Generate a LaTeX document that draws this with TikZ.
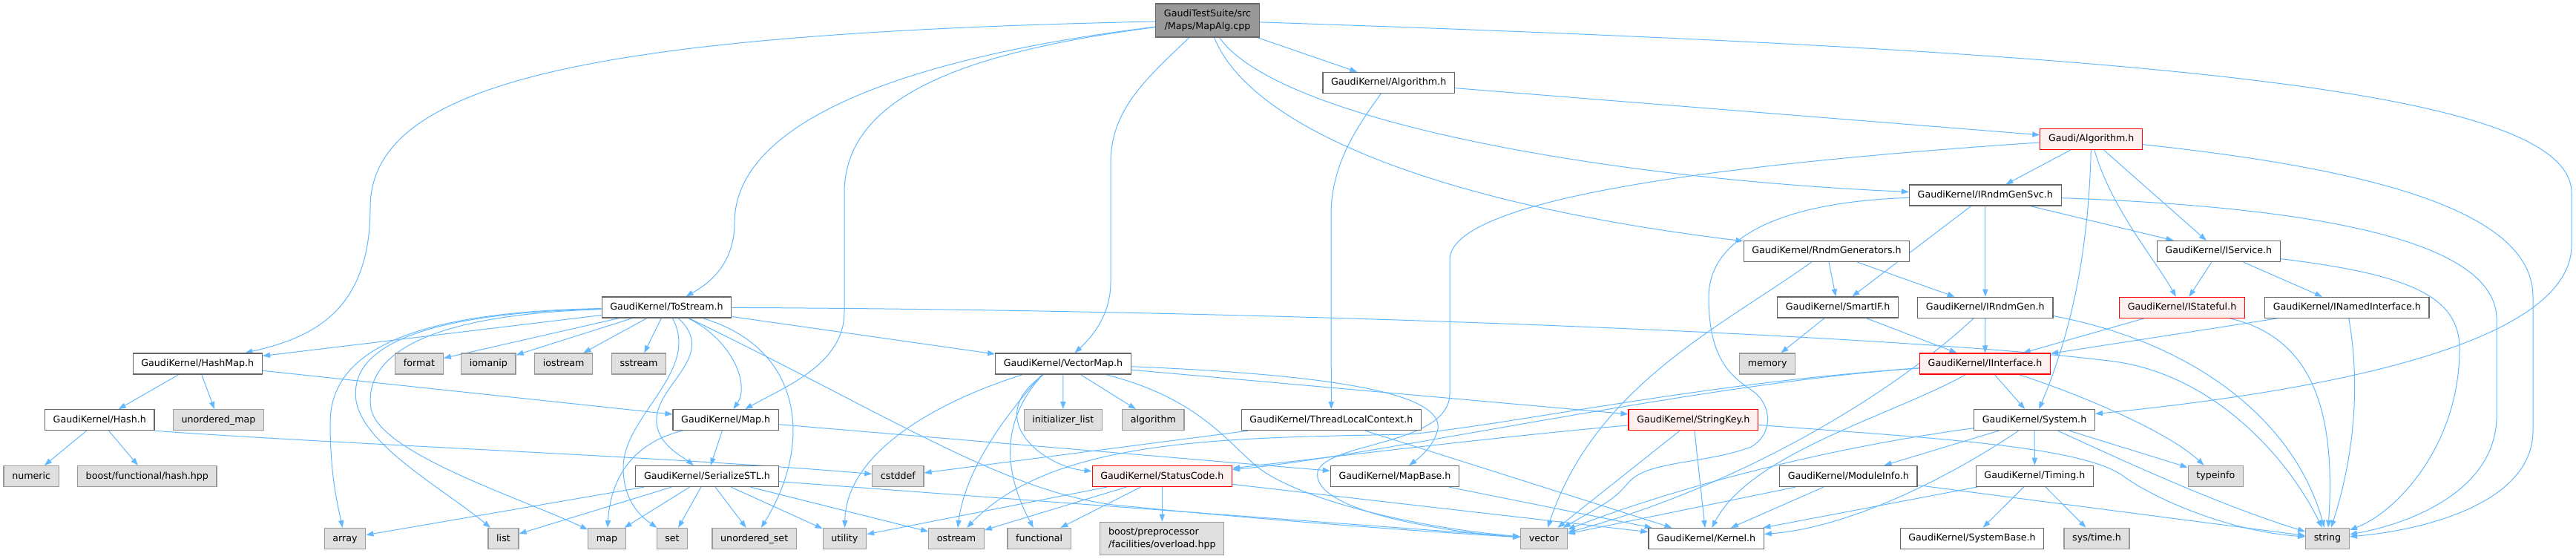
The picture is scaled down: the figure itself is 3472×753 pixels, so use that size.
\documentclass[tikz,border=0pt]{standalone}
\usepackage{fontspec}
\setmainfont{DejaVu Sans}
\usetikzlibrary{arrows.meta}
\definecolor{EdgeBlue}{HTML}{63B8FF}
\definecolor{NodeLine}{HTML}{666666}
\definecolor{SysLine}{HTML}{999999}
\definecolor{SysFill}{HTML}{E0E0E0}
\definecolor{MainFill}{HTML}{999999}
\definecolor{RedLine}{HTML}{FF0000}
\definecolor{RedFill}{HTML}{FFF0F0}
\newcommand{\dotfont}{\fontsize{6.33pt}{8.7pt}\selectfont}
\pgfdeclarelayer{back}
\pgfsetlayers{back,main}

\begin{document}
\begin{tikzpicture}[x=0.5pt, y=-0.5pt, every node/.style={font=\dotfont}]
        \tikzstyle{filebox}=[draw=NodeLine, fill=white, line width=0.6pt, inner xsep=5.6pt, inner ysep=0pt, minimum height=14pt]
        \tikzstyle{file}=[filebox, text height=4.8pt, text depth=1.3pt]
        \tikzstyle{sysfile}=[file, draw=SysLine, fill=SysFill]
        \tikzstyle{redfile}=[file, draw=RedLine, fill=RedFill]
        \tikzstyle{mainfile}=[filebox, fill=MainFill, minimum height=22.5pt, align=center]
        \tikzstyle{syspair}=[filebox, draw=SysLine, fill=SysFill, minimum height=22.2pt, align=left]
        \tikzstyle{incl}=[draw=EdgeBlue, line width=0.5pt, -{Triangle[length=5pt,width=3.6pt]}]
        \useasboundingbox (0,0) rectangle (3472,753);

        \node[mainfile] (main) at (1627.5,27.5) {GaudiTestSuite/src\\/Maps/MapAlg.cpp};
        \node[file] (algk) at (1871.7,111.5) {GaudiKernel/Algorithm.h};
        \node[redfile] (galg) at (2818.7,187.3) {Gaudi/Algorithm.h};
        \node[file] (rndmsvc) at (2675.8,263) {GaudiKernel/IRndmGenSvc.h};
        \node[file] (rndmgens) at (2462,338.5) {GaudiKernel/RndmGenerators.h};
        \node[file] (isvc) at (2990.3,338.5) {GaudiKernel/IService.h};
        \node[file] (tostream) at (898.5,414) {GaudiKernel/ToStream.h};
        \node[file] (smartif) at (2477.2,414) {GaudiKernel/SmartIF.h};
        \node[file] (irndmgen) at (2675.8,414.3) {GaudiKernel/IRndmGen.h};
        \node[redfile] (istateful) at (2941,414.3) {GaudiKernel/IStateful.h};
        \node[file] (inamed) at (3163.3,414.3) {GaudiKernel/INamedInterface.h};
        \node[file] (hashmap) at (266.3,490) {GaudiKernel/HashMap.h};
        \node[sysfile] (fmt) at (565,490) {format};
        \node[sysfile] (iomanip) at (658.4,490) {iomanip};
        \node[sysfile] (iostream) at (759.7,490) {iostream};
        \node[sysfile] (sstream) at (861,490) {sstream};
        \node[file] (vectormap) at (1433,490) {GaudiKernel/VectorMap.h};
        \node[sysfile] (memory) at (2382.2,490) {memory};
        \node[redfile] (iiface) at (2675.5,490) {GaudiKernel/IInterface.h};
        \node[file] (hash) at (134.3,565.7) {GaudiKernel/Hash.h};
        \node[sysfile] (umap) at (294.5,565.7) {unordered\_map};
        \node[file] (gkmap) at (978.2,565.7) {GaudiKernel/Map.h};
        \node[sysfile] (initlist) at (1432.8,565.7) {initializer\_list};
        \node[sysfile] (algorithm) at (1554.3,565.7) {algorithm};
        \node[file] (tlctx) at (1794.3,565.7) {GaudiKernel/ThreadLocalContext.h};
        \node[redfile] (stringkey) at (2282.3,565.7) {GaudiKernel/StringKey.h};
        \node[file] (system) at (2742,565.7) {GaudiKernel/System.h};
        \node[sysfile] (numeric) at (42.2,641.5) {numeric};
        \node[sysfile] (boosthash) at (198.3,641.5) {boost/functional/hash.hpp};
        \node[file] (serial) at (953,641.5) {GaudiKernel/SerializeSTL.h};
        \node[sysfile] (cstddef) at (1210.4,641.5) {cstddef};
        \node[redfile] (statuscode) at (1566.3,641.5) {GaudiKernel/StatusCode.h};
        \node[file] (mapbase) at (1880,641.5) {GaudiKernel/MapBase.h};
        \node[file] (modinfo) at (2491.3,641.5) {GaudiKernel/ModuleInfo.h};
        \node[file] (timing) at (2742.4,641.3) {GaudiKernel/Timing.h};
        \node[sysfile] (typeinfo) at (2986.3,641.3) {typeinfo};
        \node[sysfile] (array) at (465,725.5) {array};
        \node[sysfile] (list) at (678.5,725.5) {list};
        \node[sysfile] (stdmap) at (818,725.5) {map};
        \node[sysfile] (set) at (906,725.5) {set};
        \node[sysfile] (uset) at (1016.7,725.5) {unordered\_set};
        \node[sysfile] (utility) at (1138.4,725.5) {utility};
        \node[sysfile] (ostream) at (1289,725.5) {ostream};
        \node[sysfile] (functional) at (1400.6,725.5) {functional};
        \node[syspair] (boostpp) at (1566.3,725.5) {boost/preprocessor\\/facilities/overload.hpp};
        \node[sysfile] (vector) at (2081,725.5) {vector};
        \node[file] (kernel) at (2299.6,725.5) {GaudiKernel/Kernel.h};
        \node[file] (sysbase) at (2658,725.3) {GaudiKernel/SystemBase.h};
        \node[sysfile] (systime) at (2826,725.3) {sys/time.h};
        \node[sysfile] (string) at (3137,725.3) {string};

        \begin{pgfonlayer}{back}
        % MapAlg.cpp
        \draw[incl] (main) .. controls (800,45) and (499,110) .. (499,280) .. controls (499,420) and (420,455) .. (hashmap);
        \draw[incl] (main) .. controls (1200,80) and (990,170) .. (990,300) .. controls (990,360) and (950,385) .. (tostream);
        \draw[incl] (main) .. controls (1300,70) and (1138,130) .. (1138,260) -- (1138,420) .. controls (1138,490) and (1060,520) .. (gkmap);
        \draw[incl] (main) .. controls (1540,110) and (1497,150) .. (1497,220) -- (1497,380) .. controls (1497,430) and (1465,460) .. (vectormap);
        \draw[incl] (main) -- (algk);
        \draw[incl] (main) .. controls (1680,160) and (1900,270) .. (rndmgens);
        \draw[incl] (main) .. controls (1720,160) and (2150,240) .. (rndmsvc);
        \draw[incl] (main) .. controls (2900,70) and (3466,120) .. (3466,260) -- (3466,330) .. controls (3466,470) and (3100,530) .. (system);
        % Algorithm headers
        \draw[incl] (algk) -- (galg);
        \draw[incl] (algk) .. controls (1830,170) and (1794,220) .. (1794,290) -- (tlctx);
        \draw[incl] (galg) -- (rndmsvc);
        \draw[incl] (galg) .. controls (2815,330) and (2795,440) .. (system);
        \draw[incl] (galg) .. controls (2845,280) and (2905,350) .. (istateful);
        \draw[incl] (galg) -- (isvc);
        \draw[incl] (galg) .. controls (3220,230) and (3414,290) .. (3414,400) -- (3414,580) .. controls (3414,680) and (3260,715) .. (string);
        \draw[incl] (galg) .. controls (2300,222) and (1954,270) .. (1954,350) -- (1954,530) .. controls (1954,600) and (1790,595) .. (1776,635) .. controls (1765,690) and (1960,718) .. (vector);
        % random numbers
        \draw[incl] (rndmsvc) -- (smartif);
        \draw[incl] (rndmsvc) -- (irndmgen);
        \draw[incl] (rndmsvc) -- (isvc);
        \draw[incl] (rndmsvc) .. controls (3150,280) and (3365,330) .. (3365,430) -- (3365,560) .. controls (3365,660) and (3250,705) .. (string);
        \draw[incl] (rndmsvc) .. controls (2400,272) and (2303,320) .. (2303,400) .. controls (2303,480) and (2330,505) .. (2360,525) .. controls (2390,545) and (2390,585) .. (2360,602) .. controls (2300,625) and (2220,620) .. (2195,650) .. controls (2175,672) .. (vector);
        \draw[incl] (rndmgens) -- (smartif);
        \draw[incl] (rndmgens) -- (irndmgen);
        \draw[incl] (rndmgens) .. controls (2320,440) and (2150,520) .. (vector);
        \draw[incl] (smartif) -- (memory);
        \draw[incl] (smartif) -- (iiface);
        \draw[incl] (irndmgen) -- (iiface);
        \draw[incl] (irndmgen.-7) .. controls (2950,460) and (3090,560) .. (string);
        \draw[incl] (irndmgen) .. controls (2540,540) and (2330,660) .. (vector);
        % interfaces
        \draw[incl] (isvc) -- (istateful);
        \draw[incl] (isvc) -- (inamed);
        \draw[incl] (isvc) .. controls (3250,370) and (3315,400) .. (3315,470) .. controls (3315,600) and (3230,690) .. (string);
        \draw[incl] (istateful) -- (iiface);
        \draw[incl] (istateful) .. controls (3120,455) and (3148,560) .. (string);
        \draw[incl] (inamed) -- (iiface);
        \draw[incl] (inamed) .. controls (3185,540) and (3165,640) .. (string);
        \draw[incl] (iiface) -- (system);
        \draw[incl] (iiface) .. controls (2800,530) and (2920,580) .. (typeinfo);
        \draw[incl] (iiface) .. controls (2550,560) and (2360,610) .. (kernel);
        \draw[incl] (iiface) .. controls (2300,515) and (1850,615) .. (statuscode);
        \draw[incl] (iiface) .. controls (2300,515) and (2050,570) .. (1900,585) .. controls (1650,590) and (1420,590) .. (ostream);
        \draw[incl] (stringkey) -- (vector);
        \draw[incl] (stringkey) -- (kernel);
        \draw[incl] (stringkey) .. controls (2050,585) and (1800,615) .. (statuscode);
        \draw[incl] (stringkey) .. controls (2600,590) and (2800,600) .. (2860,640) .. controls (2900,670) and (3000,715) .. (string);
        % System.h
        \draw[incl] (system) -- (modinfo);
        \draw[incl] (system) -- (timing);
        \draw[incl] (system) -- (typeinfo);
        \draw[incl] (system) .. controls (2860,620) and (2990,680) .. (string);
        \draw[incl] (system) .. controls (2640,635) and (2500,710) .. (kernel);
        \draw[incl] (system) .. controls (2450,605) and (2250,660) .. (vector);
        \draw[incl] (modinfo) -- (kernel);
        \draw[incl] (modinfo) -- (vector);
        \draw[incl] (modinfo) -- (string);
        \draw[incl] (timing) -- (sysbase);
        \draw[incl] (timing) -- (systime);
        \draw[incl] (timing) -- (kernel);
        \draw[incl] (mapbase) -- (kernel);
        \draw[incl] (tlctx) -- (kernel);
        \draw[incl] (tlctx) -- (cstddef);
        % StatusCode.h
        \draw[incl] (statuscode) -- (boostpp);
        \draw[incl] (statuscode) -- (functional);
        \draw[incl] (statuscode) -- (ostream);
        \draw[incl] (statuscode) -- (utility);
        \draw[incl] (statuscode) -- (kernel);
        % VectorMap.h
        \draw[incl] (vectormap.-165) .. controls (1250,545) and (1140,615) .. (utility);
        \draw[incl] (vectormap.-153) .. controls (1345,570) and (1300,640) .. (ostream);
        \draw[incl] (vectormap.-152) .. controls (1345,570) and (1355,640) .. (functional);
        \draw[incl] (vectormap.-151) .. controls (1320,565) and (1410,630) .. (statuscode);
        \draw[incl] (vectormap) -- (initlist);
        \draw[incl] (vectormap) -- (algorithm);
        \draw[incl] (vectormap) -- (stringkey);
        \draw[incl] (vectormap) .. controls (1800,505) and (1945,530) .. (1938,578) .. controls (1933,600) and (1915,615) .. (mapbase);
        \draw[incl] (vectormap) .. controls (1610,535) and (1650,590) .. (1690,625) .. controls (1740,670) and (1900,710) .. (vector);
        % Map.h, HashMap.h, Hash.h
        \draw[incl] (gkmap) -- (serial);
        \draw[incl] (gkmap) .. controls (840,600) and (822,660) .. (stdmap);
        \draw[incl] (gkmap) -- (mapbase);
        \draw[incl] (hashmap) -- (hash);
        \draw[incl] (hashmap) -- (umap);
        \draw[incl] (hashmap) -- (gkmap);
        \draw[incl] (hash) -- (numeric);
        \draw[incl] (hash) -- (boosthash);
        \draw[incl] (hash.south east) .. controls (450,598) and (900,615) .. (cstddef);
        % SerializeSTL.h
        \draw[incl] (serial) -- (array);
        \draw[incl] (serial) -- (list);
        \draw[incl] (serial) -- (stdmap);
        \draw[incl] (serial) -- (set);
        \draw[incl] (serial) -- (uset);
        \draw[incl] (serial) -- (utility);
        \draw[incl] (serial) -- (ostream);
        \draw[incl] (serial) -- (vector);
        % ToStream.h
        \draw[incl] (tostream) -- (hashmap);
        \draw[incl] (tostream) -- (fmt);
        \draw[incl] (tostream) -- (iomanip);
        \draw[incl] (tostream) -- (iostream);
        \draw[incl] (tostream) -- (sstream);
        \draw[incl] (tostream) .. controls (560,420) and (445,470) .. (445,570) .. controls (445,640) and (455,680) .. (array);
        \draw[incl] (tostream) .. controls (560,422) and (470,470) .. (480,540) .. controls (490,600) and (600,660) .. (list);
        \draw[incl] (tostream) .. controls (570,424) and (490,480) .. (500,550) .. controls (510,610) and (700,670) .. (stdmap);
        \draw[incl] (tostream) .. controls (945,500) and (840,560) .. (840,630) .. controls (840,680) and (870,700) .. (set);
        \draw[incl] (tostream) .. controls (970,480) and (880,520) .. (885,570) .. controls (888,600) and (920,615) .. (serial);
        \draw[incl] (tostream) .. controls (990,460) and (1010,520) .. (gkmap);
        \draw[incl] (tostream) .. controls (1085,470) and (1095,600) .. (uset);
        \draw[incl] (tostream) -- (vectormap);
        \draw[incl] (tostream) .. controls (1200,560) and (1350,660) .. (1500,680) .. controls (1700,700) and (1900,715) .. (vector);
        \draw[incl] (tostream) .. controls (1800,418) and (2600,455) .. (2850,487) .. controls (2980,505) and (3080,610) .. (string);
        \end{pgfonlayer}
      \end{tikzpicture}
\end{document}
